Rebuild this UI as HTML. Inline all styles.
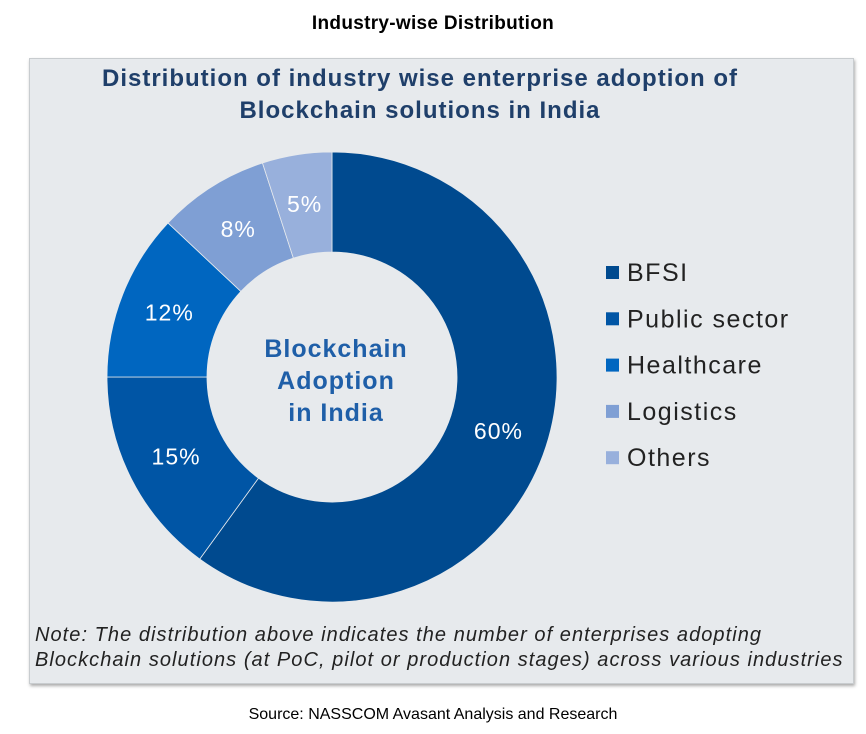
<!DOCTYPE html>
<html><head><meta charset="utf-8"><style>
body{margin:0;width:866px;height:734px;background:#fff;font-family:"Liberation Sans",sans-serif;position:relative;overflow:hidden}
.t{position:absolute;left:0;width:866px;text-align:center}
</style></head><body>
<div class="t" style="top:13px;font-size:19px;font-weight:bold;color:#000;letter-spacing:0.3px">Industry-wise Distribution</div>
<div style="position:absolute;left:29px;top:58px;width:823px;height:624px;background:#e7eaed;border:1px solid #c8cccf;box-shadow:1px 2px 3px #aaa"></div>
<div class="t" style="top:63px;font-size:24px;font-weight:bold;color:#1f3f6a;line-height:32px;left:-13px;letter-spacing:1px">Distribution of industry wise enterprise adoption of<br>Blockchain solutions in India</div>
<svg id="c" width="866" height="734" style="position:absolute;left:0;top:0"></svg>
<div style="position:absolute;left:35px;top:623px;font-size:20px;font-style:italic;color:#222;line-height:25px;letter-spacing:1.05px;white-space:nowrap">Note: The distribution above indicates the number of enterprises adopting<br>Blockchain solutions (at PoC, pilot or production stages) across various industries</div>
<div class="t" style="top:706px;font-size:16px;color:#000">Source: NASSCOM Avasant Analysis and Research</div>
<script>
const categories=["BFSI","Public sector","Healthcare","Logistics","Others"];
const values=[60,15,12,8,5];
const labels=["60%","15%","12%","8%","5%"];
const colors=["#004a8f","#0055a5","#0066c0","#7f9fd4","#98b0dc"];
const svg=document.getElementById('c'),NS="http://www.w3.org/2000/svg";
const cx=332,cy=377,R=225,r=125;
const total=values.reduce((a,b)=>a+b,0);
function pt(a,rad){return [cx+rad*Math.sin(a),cy-rad*Math.cos(a)];}
let a0=0;
values.forEach((v,i)=>{
 const a1=a0+v/total*2*Math.PI,lg=(a1-a0)>Math.PI?1:0;
 const p1=pt(a0,R),p2=pt(a1,R),p3=pt(a1,r),p4=pt(a0,r);
 const p=document.createElementNS(NS,'path');
 p.setAttribute('d',`M${p1}A${R},${R} 0 ${lg} 1 ${p2}L${p3}A${r},${r} 0 ${lg} 0 ${p4}Z`);
 p.setAttribute('fill',colors[i]);p.setAttribute('stroke','#e7eaed');p.setAttribute('stroke-width','0.8');
 
 
 svg.appendChild(p);
 const m=(a0+a1)/2,lp=pt(m,(R+r)/2);
 const t=document.createElementNS(NS,'text');
 t.setAttribute('x',lp[0]);t.setAttribute('y',lp[1]+8);t.setAttribute('text-anchor','middle');
 t.setAttribute('fill','#fff');t.setAttribute('font-size','23');t.setAttribute('letter-spacing','1');t.setAttribute('font-family','Liberation Sans, sans-serif');
 t.textContent=labels[i];
 
 
 svg.appendChild(t);
 const ly=272+i*46.3;
 const s=document.createElementNS(NS,'rect');
 s.setAttribute('x',606);s.setAttribute('y',ly-6);s.setAttribute('width',13);s.setAttribute('height',13);s.setAttribute('fill',colors[i]);
 
 
 svg.appendChild(s);
 const lt=document.createElementNS(NS,'text');
 lt.setAttribute('x',627);lt.setAttribute('y',ly+9);lt.setAttribute('fill','#222');lt.setAttribute('font-size','25');lt.setAttribute('letter-spacing','1.5');lt.setAttribute('font-family','Liberation Sans, sans-serif');
 lt.textContent=categories[i];
 
 
 svg.appendChild(lt);
 a0=a1;
});
["Blockchain","Adoption","in India"].forEach((s,i)=>{
 const t=document.createElementNS(NS,'text');
 t.setAttribute('x',cx+4);t.setAttribute('y',357+i*32);t.setAttribute('text-anchor','middle');
 t.setAttribute('fill','#1f5fa8');t.setAttribute('font-size','25');t.setAttribute('letter-spacing','1');t.setAttribute('font-weight','bold');t.setAttribute('font-family','Liberation Sans, sans-serif');
 t.textContent=s;
 
 
 svg.appendChild(t);
});
</script>
</body></html>
